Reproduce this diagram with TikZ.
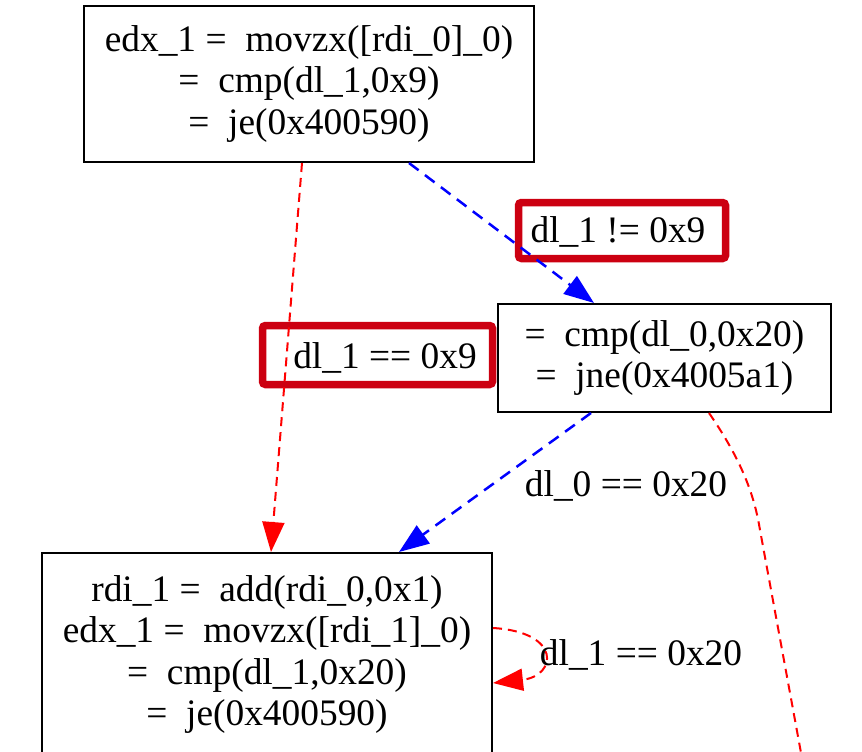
\documentclass[tikz,border=0pt]{standalone}
\usepackage{fontspec}
\setmainfont{Liberation Serif}
\usetikzlibrary{arrows.meta}
\definecolor{lblred}{RGB}{204,0,17}
\begin{document}
\begin{tikzpicture}[x=1pt,y=-1pt,
  blk/.style={draw=black, line width=2pt, inner sep=0pt, align=center,
    font=\fontsize{37.4}{41.2}\selectfont},
  lbl/.style={inner sep=0pt, font=\fontsize{37.4}{41.2}\selectfont},
  lblbox/.style={draw=lblred, line width=7.5pt, rounded corners=3pt, inner sep=0pt},
  redge/.style={draw=red, line width=2pt, dash pattern=on 9pt off 6pt},
  bedge/.style={draw=blue, line width=2.5pt, dash pattern=on 12pt off 8pt},
  rtip/.style={-{Triangle[length=30pt,width=22pt,fill=red]}},
  btip/.style={-{Triangle[length=30pt,width=22pt,fill=blue]}},
]
\clip (0,0) rectangle (862,752);
\useasboundingbox (0,0) rectangle (862,752);

\node[blk, minimum width=450pt, minimum height=156pt] (top) at (309,84)
  {edx\_1 =\ \ movzx([rdi\_0]\_0)\\=\ \ cmp(dl\_1,0x9)\\=\ \ je(0x400590)};
\node[blk, minimum width=333pt, minimum height=108pt] (mid) at (664.5,358)
  {=\ \ cmp(dl\_0,0x20)\\=\ \ jne(0x4005a1)};
\node[blk, minimum width=450pt, minimum height=203pt] (bot) at (267,654.5)
  {rdi\_1 =\ \ add(rdi\_0,0x1)\\edx\_1 =\ \ movzx([rdi\_1]\_0)\\=\ \ cmp(dl\_1,0x20)\\=\ \ je(0x400590)};

% edge labels
\node[lblbox, minimum width=207pt, minimum height=56pt] (lbA) at (622,230.5) {};
\node[lbl] (lbAt) at (618,232) {dl\_1 != 0x9};
\node[lblbox, minimum width=230pt, minimum height=59pt] (lbB) at (377.5,355) {};
\node[lbl] (lbBt) at (385,358) {dl\_1 == 0x9};
\node[lbl] (lbC) at (626,486) {dl\_0 == 0x20};
\node[lbl] (lbD) at (641,655) {dl\_1 == 0x20};

% edges
\draw[redge, rtip] ([xshift=219pt]top.south west) -- ([xshift=230pt]bot.north west);
\draw[bedge, btip] ([xshift=326pt]top.south west) -- ([xshift=97pt]mid.north west);
\draw[bedge, btip] ([xshift=94pt]mid.south west) -- ([xshift=358pt]bot.north west);
\draw[redge] ([xshift=212pt]mid.south west) .. controls (745,465) and (755,500) .. (760,530) -- (806,780);
\draw[redge, rtip] ([yshift=26.5pt]bot.east) .. controls (562,632) and (557,676) .. ([yshift=-28.5pt]bot.east);
\end{tikzpicture}
\end{document}
